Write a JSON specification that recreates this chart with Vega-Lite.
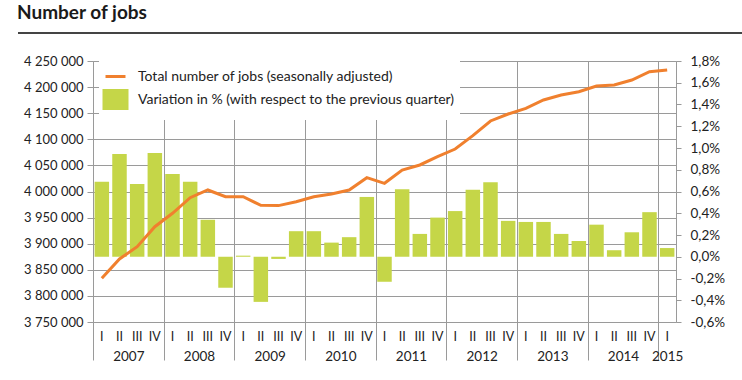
{
  "$schema": "https://vega.github.io/schema/vega-lite/v6.json",
  "padding": {"left": 17, "top": 4, "right": 0, "bottom": 0},
  "title": {"text": "Number of jobs", "anchor": "start", "fontSize": 19, "fontWeight": "bold", "font": "Lato", "color": "#1a1a1a", "offset": 9},
  "config": {
    "font": "Lato",
    "locale": {"number": {"decimal": ",", "thousands": " ", "grouping": [3], "currency": ["", ""], "minus": "-"}},
    "axis": {"labelColor": "#222", "labelFont": "Lato"},
    "legend": {"labelFont": "Lato"}
  },
  "datasets": {
    "jobs": [
      {"q": "2007 I", "jobs": 3833700, "pct": 0.69},
      {"q": "2007 II", "jobs": 3870700, "pct": 0.945},
      {"q": "2007 III", "jobs": 3894300, "pct": 0.67},
      {"q": "2007 IV", "jobs": 3932600, "pct": 0.955},
      {"q": "2008 I", "jobs": 3958200, "pct": 0.76},
      {"q": "2008 II", "jobs": 3988200, "pct": 0.69},
      {"q": "2008 III", "jobs": 4002900, "pct": 0.34},
      {"q": "2008 IV", "jobs": 3990000, "pct": -0.285},
      {"q": "2009 I", "jobs": 3990000, "pct": 0.01},
      {"q": "2009 II", "jobs": 3973500, "pct": -0.415},
      {"q": "2009 III", "jobs": 3973000, "pct": -0.02},
      {"q": "2009 IV", "jobs": 3980500, "pct": 0.235},
      {"q": "2010 I", "jobs": 3990000, "pct": 0.235},
      {"q": "2010 II", "jobs": 3995200, "pct": 0.13},
      {"q": "2010 III", "jobs": 4002900, "pct": 0.18},
      {"q": "2010 IV", "jobs": 4026500, "pct": 0.55},
      {"q": "2011 I", "jobs": 4015700, "pct": -0.23},
      {"q": "2011 II", "jobs": 4041200, "pct": 0.62},
      {"q": "2011 III", "jobs": 4050800, "pct": 0.21},
      {"q": "2011 IV", "jobs": 4066700, "pct": 0.36},
      {"q": "2012 I", "jobs": 4081400, "pct": 0.42},
      {"q": "2012 II", "jobs": 4106900, "pct": 0.615},
      {"q": "2012 III", "jobs": 4135100, "pct": 0.685},
      {"q": "2012 IV", "jobs": 4148500, "pct": 0.33},
      {"q": "2013 I", "jobs": 4159300, "pct": 0.32},
      {"q": "2013 II", "jobs": 4175300, "pct": 0.32},
      {"q": "2013 III", "jobs": 4184900, "pct": 0.21},
      {"q": "2013 IV", "jobs": 4191200, "pct": 0.145},
      {"q": "2014 I", "jobs": 4202100, "pct": 0.295},
      {"q": "2014 II", "jobs": 4204000, "pct": 0.06},
      {"q": "2014 III", "jobs": 4213600, "pct": 0.225},
      {"q": "2014 IV", "jobs": 4229500, "pct": 0.41},
      {"q": "2015 I", "jobs": 4232800, "pct": 0.08}
    ]
  },
  "columns": 1,
  "spacing": 19,
  "resolve": {"legend": {"color": "independent"}},
  "concat": [
    {
      "width": 650,
      "height": 1,
      "data": {"values": [{}]},
      "mark": {"type": "rule", "color": "#444444", "strokeWidth": 2},
      "encoding": {
        "x": {"datum": 0, "type": "quantitative", "scale": {"domain": [0, 1], "range": [-75, 650]}, "axis": null},
        "x2": {"datum": 1},
        "y": {"datum": 0, "type": "quantitative", "scale": {"domain": [0, 1]}, "axis": null}
      },
      "view": {"stroke": null}
    },
    {
      "width": 583,
      "height": 261,
      "data": {"name": "jobs"},
      "view": {"stroke": "#9a9a9a"},
      "layer": [
        {
          "mark": {"type": "bar"},
          "encoding": {
            "x": {
              "field": "q", "type": "ordinal", "sort": null,
              "scale": {"paddingInner": 0.18, "paddingOuter": 0.09},
              "axis": {"orient": "bottom", "title": null, "labelExpr": "slice(datum.value, 5)", "ticks": false, "domain": false, "grid": false, "labelAngle": 0, "labelPadding": 8, "labelFontSize": 12.5, "labelOverlap": false}
            },
            "y": {
              "field": "pct", "type": "quantitative",
              "scale": {"domain": [-0.6, 1.8], "nice": false, "zero": true},
              "axis": {"orient": "right", "title": null, "values": [-0.6, -0.4, -0.2, 0, 0.2, 0.4, 0.6, 0.8, 1.0, 1.2, 1.4, 1.6, 1.8], "labelExpr": "format(datum.value, '.1f') + '%'", "grid": false, "domain": false, "tickSize": 5, "tickColor": "#999999", "labelPadding": 9, "labelAlign": "left", "labelFontSize": 13.5}
            },
            "color": {
              "datum": "Variation in % (with respect to the previous quarter)",
              "scale": {"domain": ["Total number of jobs (seasonally adjusted)", "Variation in % (with respect to the previous quarter)"], "range": ["#f0802e", "#c5d648"]},
              "legend": {
                "title": null, "orient": "none", "legendX": 6, "legendY": -1, "direction": "vertical",
                "fillColor": "white", "padding": 5, "labelFontSize": 14, "labelColor": "#222", "labelLimit": 600, "labelOffset": 11,
                "rowPadding": 0, "symbolSize": 400,
                "encode": {
                  "symbols": {
                    "update": {
                      "shape": {"signal": "datum.value == 'Total number of jobs (seasonally adjusted)' ? 'stroke' : 'M-1.15,-0.9H1.15V0.9H-1.15Z'"},
                      "fill": {"signal": "datum.value == 'Total number of jobs (seasonally adjusted)' ? 'transparent' : '#c5d648'"},
                      "stroke": {"signal": "datum.value == 'Total number of jobs (seasonally adjusted)' ? '#f0802e' : 'transparent'"},
                      "strokeWidth": {"value": 3},
                      "opacity": {"value": 1}
                    }
                  }
                }
              }
            }
          }
        },
        {
          "mark": {"type": "line", "strokeWidth": 3},
          "encoding": {
            "x": {
              "field": "q", "type": "ordinal", "sort": null,
              "axis": {
                "orient": "bottom",
                "title": null,
                "values": ["2007 I", "2008 I", "2009 I", "2010 I", "2011 I", "2012 I", "2013 I", "2014 I", "2015 I"],
                "bandPosition": 0.5, "tickOffset": -8.83,
                "labelOffset": {"condition": {"test": "datum.value == '2015 I'", "value": 8.83}, "value": 35.33},
                "labelExpr": "slice(datum.value, 0, 4)",
                "grid": true, "gridColor": "#9a9a9a", "ticks": true, "tickSize": 38,
                "tickColor": "#9a9a9a",
                "labelPadding": -11, "labelBaseline": "top", "domain": false, "labelAngle": 0, "labelFontSize": 13.5, "labelOverlap": false
              }
            },
            "y": {
              "field": "jobs", "type": "quantitative",
              "scale": {"domain": [3750000, 4250000], "nice": false, "zero": false},
              "axis": {"orient": "left", "title": null, "values": [3750000, 3800000, 3850000, 3900000, 3950000, 4000000, 4050000, 4100000, 4150000, 4200000, 4250000], "format": ",d", "grid": true, "gridColor": "#9a9a9a", "domain": false, "tickSize": 6, "tickColor": "#9a9a9a", "labelPadding": 4, "labelFontSize": 13, "minExtent": 75, "maxExtent": 75}
            },
            "color": {"datum": "Total number of jobs (seasonally adjusted)"}
          }
        }
      ],
      "resolve": {"scale": {"y": "independent"}, "axis": {"x": "independent"}}
    }
  ]
}
